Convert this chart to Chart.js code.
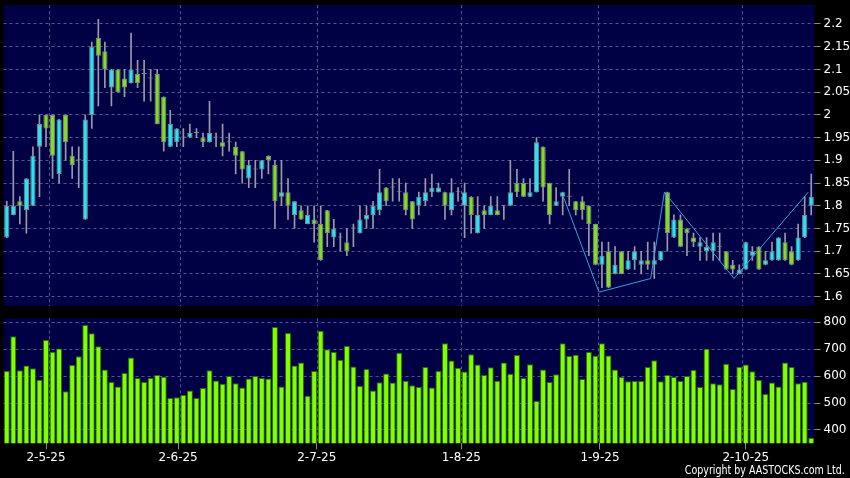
<!DOCTYPE html>
<html>
<head>
<meta charset="utf-8">
<script src="https://cdn.jsdelivr.net/npm/chart.js@4.4.1/dist/chart.umd.min.js"></script>
<style>
	html, body { margin: 0; padding: 0; background: #000; width: 850px; height: 478px; overflow: hidden; }
	#priceChart { position: absolute; left: 0; top: 0; }
	#volumeChart { position: absolute; left: 0; top: 310px; }
	#copy {
		position: absolute; right: 5px; top: 463px; color: #fff;
		font: 12px "DejaVu Sans Condensed", "DejaVu Sans", sans-serif;
		white-space: nowrap;
		transform: scaleX(0.88);
		transform-origin: right center;
	}
</style>
</head>
<body>
<canvas id="priceChart" width="850" height="310"></canvas>
<canvas id="volumeChart" width="850" height="168"></canvas>
<div id="copy">Copyright by AASTOCKS.com Ltd.</div>
<script>
/* -------------------------------------------------------------
 * DATA (daily candles)
 * ------------------------------------------------------------- */

const open = [
	1.73, 1.78, 1.81, 1.79, 1.80, 1.93, 2.00, 2.00, 1.87, 2.00,
	1.91, 1.90, 1.77, 2.00, 2.17, 2.14, 2.06, 2.10, 2.08, 2.07,
	2.09, 2.09, 2.08, 2.09, 2.04, 1.93, 1.94, 1.95, 1.95, 1.96,
	1.95, 1.94, 1.95, 1.94, 1.94, 1.93, 1.92, 1.86, 1.88, 1.88,
	1.91, 1.89, 1.82, 1.83, 1.78, 1.79, 1.76, 1.77, 1.76, 1.79,
	1.73, 1.73, 1.72, 1.75, 1.74, 1.77, 1.78, 1.79, 1.84, 1.84,
	1.83, 1.83, 1.81, 1.80, 1.81, 1.83, 1.83, 1.83, 1.79, 1.83,
	1.80, 1.82, 1.74, 1.79, 1.78, 1.79, 1.80, 1.80, 1.85, 1.85,
	1.82, 1.83, 1.93, 1.85, 1.80, 1.82, 1.82, 1.81, 1.81, 1.80,
	1.76, 1.67, 1.70, 1.65, 1.70, 1.66, 1.68, 1.67, 1.68, 1.67,
	1.68, 1.83, 1.73, 1.77, 1.75, 1.73, 1.71, 1.70, 1.70, 1.71,
	1.70, 1.67, 1.65, 1.66, 1.69, 1.71, 1.67, 1.68, 1.68, 1.72,
	1.70, 1.68, 1.73, 1.80
];

const close = [
	1.80, 1.80, 1.80, 1.86, 1.91, 1.98, 1.97, 1.91, 1.99, 1.94,
	1.89, 1.90, 1.99, 2.15, 2.13, 2.10, 2.10, 2.05, 2.06, 2.10,
	2.07, 2.09, 2.08, 1.98, 1.94, 1.98, 1.97, 1.95, 1.96, 1.96,
	1.94, 1.96, 1.95, 1.93, 1.94, 1.91, 1.88, 1.89, 1.88, 1.90,
	1.90, 1.81, 1.83, 1.80, 1.81, 1.77, 1.78, 1.76, 1.68, 1.74,
	1.75, 1.73, 1.70, 1.75, 1.77, 1.78, 1.80, 1.83, 1.81, 1.84,
	1.83, 1.79, 1.77, 1.82, 1.83, 1.84, 1.84, 1.80, 1.83, 1.83,
	1.83, 1.78, 1.78, 1.78, 1.80, 1.78, 1.80, 1.83, 1.83, 1.82,
	1.83, 1.94, 1.84, 1.78, 1.81, 1.83, 1.82, 1.79, 1.79, 1.76,
	1.67, 1.69, 1.62, 1.67, 1.65, 1.68, 1.70, 1.68, 1.67, 1.68,
	1.70, 1.74, 1.77, 1.71, 1.74, 1.72, 1.72, 1.71, 1.72, 1.71,
	1.66, 1.66, 1.66, 1.72, 1.70, 1.66, 1.68, 1.70, 1.73, 1.68,
	1.67, 1.73, 1.78, 1.82
];

const high = [
	1.81, 1.92, 1.82, 1.86, 1.93, 2.00, 2.00, 2.00, 1.99, 2.00,
	1.93, 1.93, 2.00, 2.16, 2.21, 2.16, 2.10, 2.10, 2.10, 2.18,
	2.12, 2.12, 2.10, 2.10, 2.04, 2.01, 1.97, 1.97, 1.98, 1.97,
	1.96, 2.03, 1.96, 1.98, 1.96, 1.94, 1.92, 1.90, 1.90, 1.90,
	1.91, 1.90, 1.90, 1.86, 1.81, 1.80, 1.80, 1.80, 1.80, 1.79,
	1.77, 1.74, 1.75, 1.76, 1.80, 1.80, 1.81, 1.88, 1.84, 1.86,
	1.86, 1.85, 1.81, 1.83, 1.86, 1.87, 1.85, 1.83, 1.86, 1.84,
	1.85, 1.82, 1.82, 1.80, 1.82, 1.82, 1.80, 1.90, 1.88, 1.86,
	1.86, 1.95, 1.93, 1.85, 1.84, 1.83, 1.88, 1.81, 1.82, 1.80,
	1.76, 1.72, 1.72, 1.71, 1.70, 1.70, 1.71, 1.70, 1.72, 1.72,
	1.70, 1.83, 1.78, 1.78, 1.75, 1.74, 1.73, 1.73, 1.74, 1.74,
	1.70, 1.68, 1.67, 1.72, 1.71, 1.71, 1.70, 1.72, 1.73, 1.74,
	1.71, 1.76, 1.82, 1.87
];

const low = [
	1.73, 1.78, 1.76, 1.74, 1.80, 1.82, 1.93, 1.86, 1.85, 1.90,
	1.86, 1.84, 1.77, 1.97, 2.02, 2.06, 2.02, 2.05, 2.04, 2.07,
	2.06, 2.03, 2.03, 1.98, 1.92, 1.93, 1.93, 1.93, 1.95, 1.95,
	1.93, 1.94, 1.93, 1.91, 1.92, 1.87, 1.85, 1.84, 1.84, 1.86,
	1.87, 1.75, 1.80, 1.77, 1.75, 1.77, 1.76, 1.72, 1.68, 1.71,
	1.71, 1.70, 1.69, 1.71, 1.74, 1.75, 1.75, 1.78, 1.80, 1.81,
	1.81, 1.78, 1.75, 1.78, 1.80, 1.82, 1.83, 1.77, 1.78, 1.81,
	1.73, 1.74, 1.74, 1.75, 1.78, 1.78, 1.77, 1.80, 1.82, 1.82,
	1.82, 1.83, 1.81, 1.76, 1.80, 1.78, 1.80, 1.78, 1.77, 1.69,
	1.67, 1.62, 1.62, 1.65, 1.65, 1.66, 1.66, 1.65, 1.66, 1.64,
	1.68, 1.70, 1.73, 1.71, 1.69, 1.71, 1.68, 1.68, 1.68, 1.68,
	1.66, 1.65, 1.65, 1.66, 1.68, 1.66, 1.67, 1.68, 1.68, 1.68,
	1.67, 1.68, 1.73, 1.78
];

const volume = [
	619, 748, 622, 640, 629, 587, 734, 691, 703, 544,
	641, 674, 790, 759, 711, 625, 578, 562, 612, 669,
	593, 578, 593, 604, 598, 519, 522, 530, 547, 519,
	556, 622, 584, 572, 601, 574, 558, 591, 601, 593,
	591, 783, 562, 760, 640, 651, 527, 619, 769, 700,
	690, 661, 712, 636, 563, 627, 547, 577, 610, 576,
	687, 583, 566, 560, 634, 558, 619, 722, 658, 631,
	617, 681, 643, 604, 633, 583, 651, 609, 679, 593,
	644, 508, 625, 578, 607, 722, 675, 680, 589, 690,
	676, 722, 677, 625, 597, 581, 582, 582, 634, 659,
	581, 604, 597, 582, 601, 623, 560, 702, 574, 570,
	646, 552, 635, 643, 618, 586, 534, 576, 562, 651,
	634, 574, 579, 371
];

// zigzag pattern line (x in candle index units)
const zigX = [85.1, 90.55, 98.45, 100.55, 111.2, 122.55];
const zigY = [1.82, 1.61, 1.64, 1.83, 1.64, 1.83];

// axes
const priceTicks = [1.6, 1.65, 1.7, 1.75, 1.8, 1.85, 1.9, 1.95, 2, 2.05, 2.1, 2.15, 2.2];
const volumeTicks = [400, 500, 600, 700, 800];
const dateLabels = ['2-5-25', '2-6-25', '2-7-25', '1-8-25', '1-9-25', '2-10-25'];
const dateLabelPos = [6, 26.2, 47.4, 69.5, 90.7, 113];
const dateGridPos = [6.5, 26.5, 47.5, 69.5, 90.5, 112.5];

const categories = open.map((_, i) => i);

/* -------------------------------------------------------------
 * STYLE
 * ------------------------------------------------------------- */

const NAVY = '#000044';
const GRID = '#4f5890';
const UP = '#27e3f4';
const DOWN = '#84dc22';
const EDGE = '#7e8a86';
const WICK = '#9a9aa6';
const FONT = { family: 'DejaVu Sans', size: 12 };

const plotBg = {
	id: 'plotBg',
	beforeDraw(chart) {
		const { ctx, chartArea: a } = chart;
		ctx.save();
		ctx.fillStyle = NAVY;
		ctx.fillRect(a.left, a.top, a.right - a.left, a.bottom - a.top);
		ctx.restore();
	}
};

// hidden linear x axis in candle-index units, used for grid lines / ticks / the zigzag
function indexAxis(extra) {
	return Object.assign({
		type: 'linear',
		position: 'bottom',
		min: -0.5,
		max: 123.5,
		offset: false,
		bounds: 'data'
	}, extra);
}

function gridAxis() {
	return indexAxis({
		ticks: { display: false },
		grid: { color: GRID, drawTicks: false, offset: false },
		border: { display: false, dash: [3, 3] },
		afterBuildTicks: s => { s.ticks = dateGridPos.map(v => ({ value: v })); },
		afterFit: s => { s.height = 0; }
	});
}

function rightAxis(min, max, ticks, fmt) {
	return {
		position: 'right',
		min: min,
		max: max,
		ticks: { color: '#fff', font: FONT, padding: 3, callback: fmt },
		grid: { color: GRID, tickColor: '#8a8a8a', tickLength: 6, tickBorderDash: [] },
		border: { display: false, dash: [3, 3] },
		afterBuildTicks: s => { s.ticks = ticks.map(v => ({ value: v })); },
		afterFit: s => {
			s.width = 35.5;
			// first / last labels sit well inside the panel, no extra room needed
			s.paddingTop = 0;
			s.paddingBottom = 0;
		}
	};
}

const common = {
	responsive: false,
	animation: false,
	events: [],
	plugins: { legend: { display: false }, tooltip: { enabled: false } }
};

/* -------------------------------------------------------------
 * PRICE PANEL
 * ------------------------------------------------------------- */

new Chart(document.getElementById('priceChart'), {
	type: 'bar',
	data: {
		labels: categories,
		datasets: [
			{
				type: 'line',
				xAxisID: 'xg',
				data: zigX.map((x, i) => ({ x: x, y: zigY[i] })),
				borderColor: '#3d9de2',
				borderWidth: 1,
				pointRadius: 0,
				tension: 0
			},
			{
				data: open.map((o, i) => [o, close[i]]),
				backgroundColor: open.map((o, i) => close[i] > o ? UP : (close[i] < o ? DOWN : EDGE)),
				borderColor: EDGE,
				borderWidth: 1,
				borderSkipped: false,
				minBarLength: 1,
				grouped: false,
				barPercentage: 0.8,
				categoryPercentage: 1
			},
			{
				data: low.map((l, i) => [l, high[i]]),
				backgroundColor: WICK,
				borderWidth: 0,
				barThickness: 1,
				minBarLength: 1,
				grouped: false
			}
		]
	},
	options: {
		...common,
		layout: { padding: { left: 3.5, top: 5, right: 0, bottom: 4 } },
		scales: {
			x: { type: 'category', display: false, offset: true },
			xg: gridAxis(),
			y: rightAxis(1.5795, 2.2418, priceTicks, v => String(+v.toFixed(2)))
		}
	},
	plugins: [plotBg]
});

/* -------------------------------------------------------------
 * VOLUME PANEL
 * ------------------------------------------------------------- */

new Chart(document.getElementById('volumeChart'), {
	type: 'bar',
	data: {
		labels: categories,
		datasets: [
			{
				data: volume,
				backgroundColor: '#80ff00',
				borderColor: '#2b6a0c',
				borderWidth: 1,
				borderSkipped: false,
				barPercentage: 0.92,
				categoryPercentage: 1
			}
		]
	},
	options: {
		...common,
		layout: { padding: { left: 3.5, top: 8.3, right: 0, bottom: 0 } },
		scales: {
			x: { type: 'category', display: false, offset: true },
			xg: gridAxis(),
			xt: indexAxis({
				ticks: {
					color: '#fff',
					font: FONT,
					padding: 1,
					maxRotation: 0,
					autoSkip: false,
					callback: (v, i) => dateLabels[i]
				},
				grid: { drawOnChartArea: false, offset: false, tickColor: '#8a8a8a', tickLength: 6 },
				border: { display: false },
				afterBuildTicks: s => { s.ticks = dateLabelPos.map(v => ({ value: v })); },
				afterFit: s => {
					s.height = 34.7;
					s.paddingLeft = 0;
					s.paddingRight = 0;
				}
			}),
			y: rightAxis(350.5, 815, volumeTicks, v => String(v))
		}
	},
	plugins: [plotBg]
});
</script>
</body>
</html>
